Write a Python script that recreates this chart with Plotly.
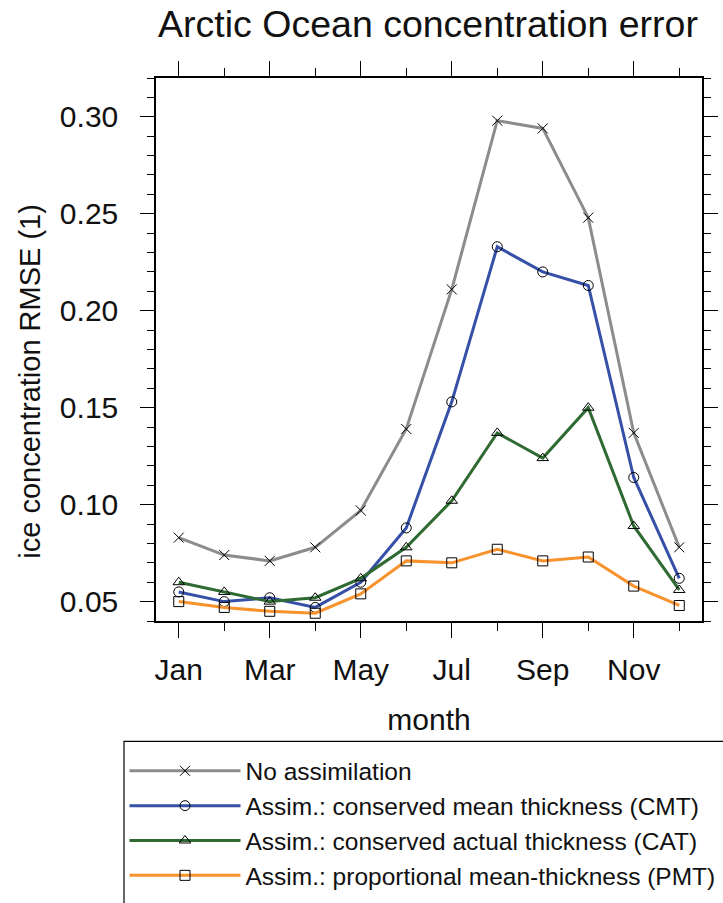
import plotly.graph_objects as go

months = list(range(1, 13))
month_ticks = [1, 3, 5, 7, 9, 11]
month_labels = ["Jan", "Mar", "May", "Jul", "Sep", "Nov"]
y_ticks = [0.05, 0.10, 0.15, 0.20, 0.25, 0.30]
y_labels = ["0.05", "0.10", "0.15", "0.20", "0.25", "0.30"]

no_assim = [0.083, 0.074, 0.071, 0.078, 0.097, 0.139, 0.211, 0.298, 0.294, 0.248, 0.137, 0.078]
cmt = [0.055, 0.050, 0.052, 0.047, 0.060, 0.088, 0.153, 0.233, 0.220, 0.213, 0.114, 0.062]
cat = [0.060, 0.055, 0.050, 0.052, 0.062, 0.078, 0.102, 0.137, 0.124, 0.150, 0.089, 0.056]
pmt = [0.050, 0.047, 0.045, 0.044, 0.054, 0.071, 0.070, 0.077, 0.071, 0.073, 0.058, 0.048]

names = ["No assimilation",
         "Assim.: conserved mean thickness (CMT)",
         "Assim.: conserved actual thickness (CAT)",
         "Assim.: proportional mean-thickness (PMT)"]
colors = ["#8c8c8c", "#3550a6", "#2f6a32", "#f8922c"]
symbols = ["x-thin-open", "circle-open", "triangle-up-open", "square-open"]
sizes = [10, 10, 10, 10]
series = [no_assim, cmt, cat, pmt]

FONT = "Liberation Sans, Arial, sans-serif"
W, H = 723, 903
L, R, T, B = 156, 702, 78, 621.5
PW, PH = R - L, B - T

fig = go.Figure()
for vals, name, col, sym, sz in zip(series, names, colors, symbols, sizes):
    fig.add_trace(go.Scatter(
        x=months, y=vals, name=name, mode="lines+markers",
        line=dict(color=col, width=3),
        marker=dict(symbol=sym, size=sz, color="black",
                    line=dict(color="black", width=1)),
    ))

axis_common = dict(showline=True, linecolor="black", linewidth=1.5, mirror="ticks",
                   ticks="outside", tickcolor="black", tickwidth=1.2,
                   showgrid=False, zeroline=False, automargin=False,
                   tickfont=dict(family=FONT, size=30, color="#111"))

fig.update_xaxes(range=[0.5, 12.5], tickmode="array", tickvals=month_ticks,
                 ticktext=month_labels, ticklen=15, ticklabelstandoff=6,
                 minor=dict(tickmode="array", tickvals=[2, 4, 6, 8, 10, 12],
                            ticklen=8, tickcolor="black", tickwidth=1.2, ticks="outside"),
                 **axis_common)
fig.update_yaxes(range=[0.04, 0.32], tickmode="array", tickvals=y_ticks,
                 ticktext=y_labels, ticklen=14, ticklabelstandoff=16,
                 minor=dict(dtick=0.01, tick0=0.0, ticklen=7, tickcolor="black",
                            tickwidth=1.2, ticks="outside"),
                 **axis_common)

fig.update_layout(
    width=W, height=H,
    margin=dict(l=L, r=W - R, t=T, b=H - B, autoexpand=False),
    plot_bgcolor="white", paper_bgcolor="white",
    font=dict(family=FONT, color="#111"),
    title=dict(text="Arctic Ocean concentration error", x=428 / W, xanchor="center",
               y=1 - 24 / H, yanchor="middle", font=dict(size=37.5, family=FONT, color="#111")),
    xaxis_title=dict(text="month", font=dict(size=30, family=FONT, color="#111"), standoff=24),
    showlegend=True,
    legend=dict(x=(124.5 - L) / PW, y=(B - 749) / PH, xanchor="left", yanchor="top",
                borderwidth=0, bgcolor="rgba(0,0,0,0)",
                font=dict(size=24.5, family=FONT, color="#111"),
                itemwidth=111, tracegroupgap=0),
    shapes=[dict(type="rect", xref="paper", yref="paper",
                 x0=(124 - L) / PW, x1=(760 - L) / PW,
                 y0=(B - 742) / PH, y1=(B - 940) / PH,
                 line=dict(color="black", width=1.2), fillcolor="rgba(0,0,0,0)")],
    annotations=[dict(text="ice concentration RMSE (1)", textangle=-90,
                      xref="paper", yref="paper", x=(30 - L) / PW,
                      y=(B - 382) / PH, xanchor="center", yanchor="middle",
                      showarrow=False, font=dict(size=29, family=FONT, color="#111"))],
)

fig.write_html("out.html", config={"displayModeBar": False},
               post_script="document.body.style.margin='0';")
